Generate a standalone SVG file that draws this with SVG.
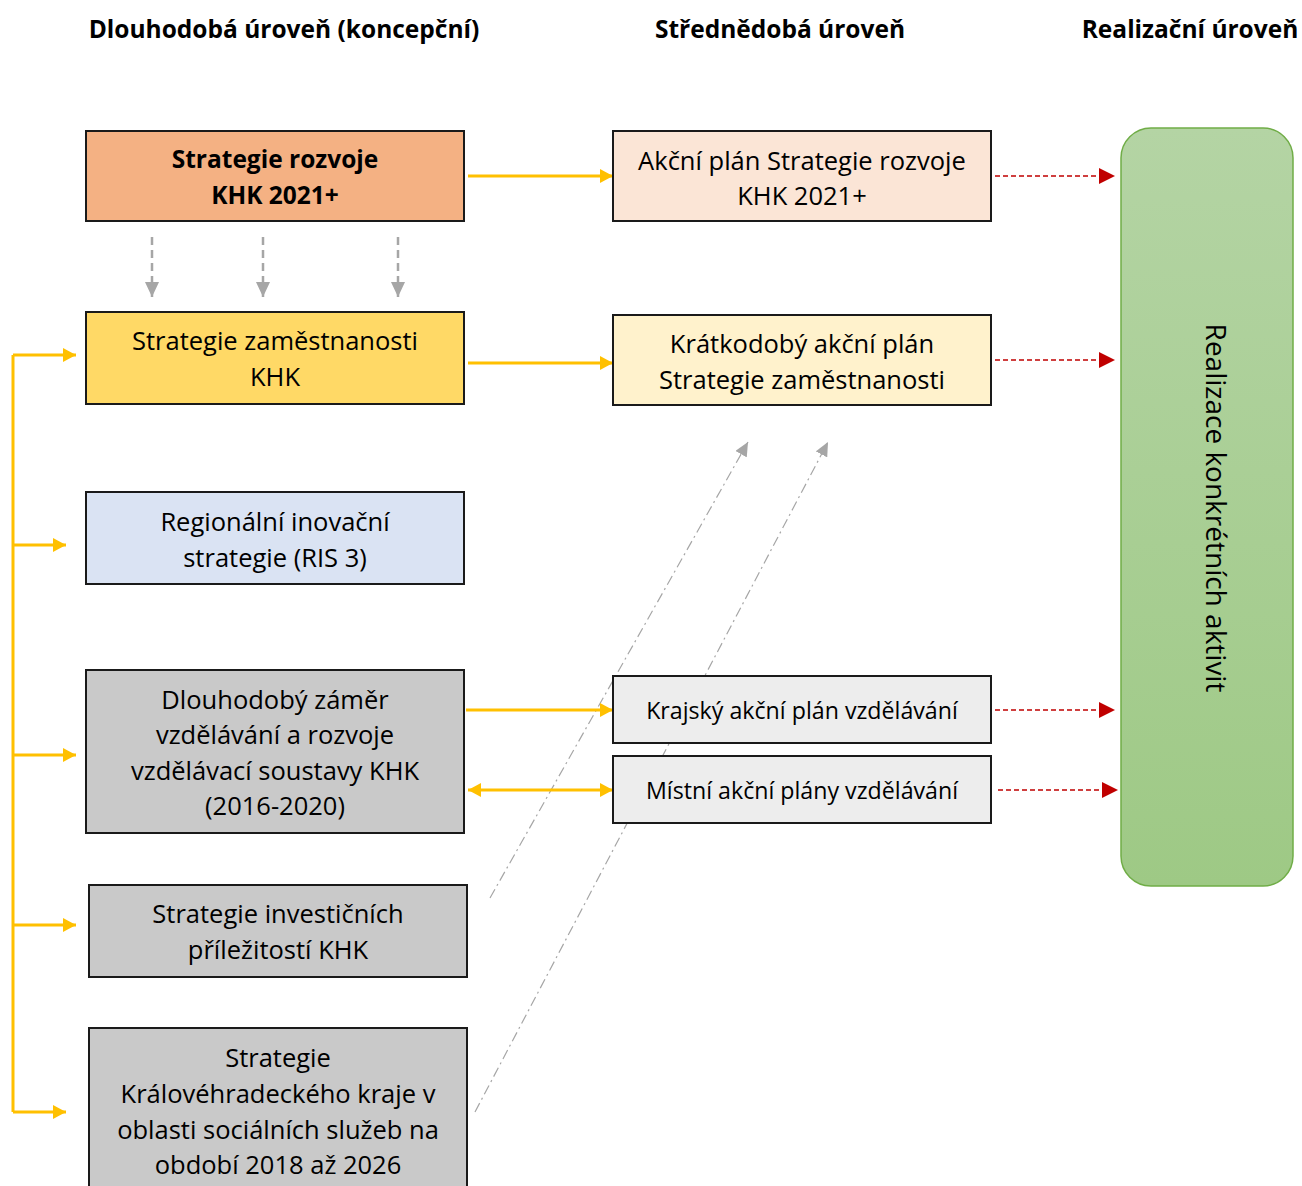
<svg xmlns="http://www.w3.org/2000/svg" width="1302" height="1186" viewBox="0 0 1302 1186">
<style>
.hdr{font-family:"Open Sans","Liberation Sans",sans-serif;font-weight:bold;font-size:24.5px;fill:#000;text-anchor:middle}
.t{font-family:"Open Sans","Liberation Sans",sans-serif;font-size:25.5px;fill:#000;text-anchor:middle}
.s{font-size:23.2px}
.tb{font-weight:bold;font-size:24.5px}
.box{stroke:#1a1a1a;stroke-width:2}
.yl{stroke:#ffc000;stroke-width:3;fill:none}
.gd{stroke:#a6a6a6;stroke-width:2.5;stroke-dasharray:8 5;fill:none}
.rd{stroke:#c00000;stroke-width:1.5;stroke-dasharray:5 3;fill:none}
.dd{stroke:#a6a6a6;stroke-width:1.2;stroke-dasharray:10 4 2 4;fill:none}
</style>
<defs>
<marker id="ya" viewBox="0 0 13 14" refX="13" refY="7" markerWidth="13" markerHeight="14" markerUnits="userSpaceOnUse" orient="auto-start-reverse"><path d="M0,0 L13,7 L0,14 z" fill="#ffc000"/></marker>
<marker id="ga" viewBox="0 0 15 14" refX="15" refY="7" markerWidth="15" markerHeight="14" markerUnits="userSpaceOnUse" orient="auto"><path d="M0,0 L15,7 L0,14 z" fill="#a6a6a6"/></marker>
<marker id="ra" viewBox="0 0 16 16" refX="16" refY="8" markerWidth="16" markerHeight="16" markerUnits="userSpaceOnUse" orient="auto"><path d="M0,0 L16,8 L0,16 z" fill="#c00000"/></marker>
<marker id="da" viewBox="0 0 14 13" refX="14" refY="6.5" markerWidth="14" markerHeight="13" markerUnits="userSpaceOnUse" orient="auto"><path d="M0,0 L14,6.5 L0,13 z" fill="#a6a6a6"/></marker>
<linearGradient id="gg" x1="0" y1="0" x2="0" y2="1"><stop offset="0" stop-color="#b4d4a4"/><stop offset="1" stop-color="#9ec985"/></linearGradient>
</defs>
<rect width="1302" height="1186" fill="#fff"/>
<g id="headers">
<text class="hdr" x="284" y="38">Dlouhodobá úroveň (koncepční)</text>
<text class="hdr" x="780" y="38">Střednědobá úroveň</text>
<text class="hdr" x="1190" y="38">Realizační úroveň</text>
</g>
<g id="connectors">
<path class="dd" d="M490,898 L748,442" marker-end="url(#da)"/>
<path class="dd" d="M475,1112 L828,442" marker-end="url(#da)"/>
<path class="yl" d="M468,176 H613" marker-end="url(#ya)"/>
<path class="yl" d="M468,363 H613" marker-end="url(#ya)"/>
<path class="yl" d="M466,710 H613" marker-end="url(#ya)"/>
<path class="yl" d="M468,790 H613" marker-start="url(#ya)" marker-end="url(#ya)"/>
<path class="yl" d="M13,355 V1112"/>
<path class="yl" d="M13,355 H76" marker-end="url(#ya)"/>
<path class="yl" d="M13,545 H66" marker-end="url(#ya)"/>
<path class="yl" d="M13,755 H76" marker-end="url(#ya)"/>
<path class="yl" d="M13,925 H76" marker-end="url(#ya)"/>
<path class="yl" d="M13,1112 H66" marker-end="url(#ya)"/>
<path class="gd" d="M152,237 V297" marker-end="url(#ga)"/>
<path class="gd" d="M263,237 V297" marker-end="url(#ga)"/>
<path class="gd" d="M398,237 V297" marker-end="url(#ga)"/>
<path class="rd" d="M995,176 H1115" marker-end="url(#ra)"/>
<path class="rd" d="M995,360 H1115" marker-end="url(#ra)"/>
<path class="rd" d="M995,710 H1115" marker-end="url(#ra)"/>
<path class="rd" d="M998,790 H1118" marker-end="url(#ra)"/>
</g>
<g id="n1"><rect class="box" x="86" y="131" width="378" height="90" fill="#f4b183"/>
<text class="t tb" x="275" y="168">Strategie rozvoje</text><text class="t tb" x="275" y="204">KHK 2021+</text></g>
<g id="n2"><rect class="box" x="86" y="312" width="378" height="92" fill="#ffd966"/>
<text class="t" x="275" y="350">Strategie zaměstnanosti</text><text class="t" x="275" y="386">KHK</text></g>
<g id="n3"><rect class="box" x="86" y="492" width="378" height="92" fill="#dae3f3"/>
<text class="t" x="275" y="531">Regionální inovační</text><text class="t" x="275" y="567">strategie (RIS 3)</text></g>
<g id="n4"><rect class="box" x="86" y="670" width="378" height="163" fill="#c9c9c9"/>
<text class="t" x="275" y="709">Dlouhodobý záměr</text><text class="t" x="275" y="744">vzdělávání a rozvoje</text><text class="t" x="275" y="780">vzdělávací soustavy KHK</text><text class="t" x="275" y="815">(2016-2020)</text></g>
<g id="n5"><rect class="box" x="89" y="885" width="378" height="92" fill="#c9c9c9"/>
<text class="t" x="278" y="923">Strategie investičních</text><text class="t" x="278" y="959">příležitostí KHK</text></g>
<g id="n6"><rect class="box" x="89" y="1028" width="378" height="170" fill="#c9c9c9"/>
<text class="t" x="278" y="1067">Strategie</text><text class="t" x="278" y="1103">Královéhradeckého kraje v</text><text class="t" x="278" y="1139">oblasti sociálních služeb na</text><text class="t" x="278" y="1174">období 2018 až 2026</text></g>
<g id="n7"><rect class="box" x="613" y="131" width="378" height="90" fill="#fbe5d6"/>
<text class="t" x="802" y="170">Akční plán Strategie rozvoje</text><text class="t" x="802" y="205">KHK 2021+</text></g>
<g id="n8"><rect class="box" x="613" y="315" width="378" height="90" fill="#fff2cc"/>
<text class="t" x="802" y="353">Krátkodobý akční plán</text><text class="t" x="802" y="389">Strategie zaměstnanosti</text></g>
<g id="n9"><rect class="box" x="613" y="676" width="378" height="67" fill="#ededed"/>
<text class="t s" x="802" y="719">Krajský akční plán vzdělávání</text></g>
<g id="n10"><rect class="box" x="613" y="756" width="378" height="67" fill="#ededed"/>
<text class="t s" x="802" y="799">Místní akční plány vzdělávání</text></g>
<g id="n11"><rect x="1121" y="128" width="172" height="758" rx="30" ry="30" fill="url(#gg)" stroke="#70ad47" stroke-width="1.5"/>
<text class="t" x="0" y="0" transform="translate(1206,508) rotate(90)" style="font-size:28px">Realizace konkrétních aktivit</text></g>
</svg>
